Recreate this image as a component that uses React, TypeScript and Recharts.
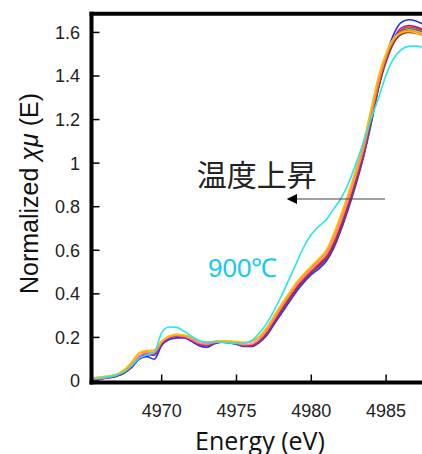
import React from 'react';
import { LineChart, Line, XAxis, YAxis } from 'recharts';

const energy = [4965.3, 4966, 4967, 4967.5, 4968, 4968.5, 4969, 4969.5, 4970, 4970.5, 4971, 4971.5, 4972, 4972.5, 4973, 4973.5, 4974, 4974.5, 4975, 4975.5, 4976, 4976.5, 4977, 4977.5, 4978, 4978.5, 4979, 4979.5, 4980, 4980.5, 4981, 4981.5, 4982, 4982.5, 4983, 4983.5, 4984, 4984.5, 4985, 4985.5, 4986, 4986.5, 4987, 4987.4];

const xTicks = [4970, 4975, 4980, 4985];
const yTicks = [0, 0.2, 0.4, 0.6, 0.8, 1, 1.2, 1.4, 1.6];

const blue = [0.006, 0.01, 0.022, 0.036, 0.062, 0.1, 0.112, 0.1, 0.163, 0.19, 0.198, 0.197, 0.182, 0.162, 0.155, 0.17, 0.178, 0.175, 0.168, 0.158, 0.158, 0.175, 0.208, 0.258, 0.31, 0.36, 0.41, 0.452, 0.488, 0.515, 0.55, 0.61, 0.695, 0.795, 0.905, 1.03, 1.18, 1.35, 1.49, 1.59, 1.645, 1.658, 1.652, 1.64];
const purple = [0.007, 0.011, 0.024, 0.038, 0.065, 0.105, 0.12, 0.118, 0.17, 0.198, 0.205, 0.202, 0.187, 0.167, 0.162, 0.173, 0.179, 0.176, 0.17, 0.161, 0.162, 0.18, 0.215, 0.268, 0.32, 0.37, 0.42, 0.46, 0.496, 0.525, 0.56, 0.622, 0.708, 0.808, 0.918, 1.04, 1.19, 1.35, 1.48, 1.57, 1.62, 1.632, 1.626, 1.615];
const red = [0.008, 0.012, 0.026, 0.042, 0.07, 0.112, 0.126, 0.125, 0.175, 0.2, 0.207, 0.203, 0.188, 0.17, 0.165, 0.175, 0.18, 0.177, 0.171, 0.163, 0.165, 0.186, 0.224, 0.278, 0.332, 0.383, 0.433, 0.472, 0.507, 0.538, 0.574, 0.64, 0.727, 0.828, 0.938, 1.058, 1.21, 1.365, 1.485, 1.565, 1.61, 1.625, 1.62, 1.61];
const green = [0.008, 0.012, 0.025, 0.041, 0.069, 0.11, 0.125, 0.126, 0.176, 0.201, 0.208, 0.204, 0.189, 0.171, 0.166, 0.176, 0.18, 0.177, 0.172, 0.164, 0.166, 0.187, 0.225, 0.279, 0.333, 0.384, 0.434, 0.473, 0.508, 0.539, 0.575, 0.641, 0.728, 0.829, 0.937, 1.056, 1.206, 1.36, 1.48, 1.56, 1.603, 1.617, 1.613, 1.603];
const darkRed = [0.008, 0.012, 0.025, 0.04, 0.068, 0.11, 0.127, 0.128, 0.178, 0.203, 0.21, 0.205, 0.19, 0.172, 0.167, 0.176, 0.18, 0.177, 0.172, 0.163, 0.165, 0.185, 0.222, 0.275, 0.33, 0.38, 0.43, 0.47, 0.505, 0.535, 0.57, 0.635, 0.72, 0.82, 0.93, 1.05, 1.2, 1.355, 1.475, 1.555, 1.595, 1.605, 1.6, 1.59];
const brown = [0.008, 0.012, 0.024, 0.038, 0.066, 0.108, 0.125, 0.127, 0.176, 0.2, 0.208, 0.204, 0.19, 0.172, 0.166, 0.176, 0.18, 0.177, 0.172, 0.164, 0.164, 0.182, 0.218, 0.27, 0.325, 0.375, 0.425, 0.465, 0.5, 0.53, 0.563, 0.625, 0.71, 0.81, 0.92, 1.04, 1.19, 1.345, 1.465, 1.55, 1.59, 1.6, 1.597, 1.588];
const gray = [0.008, 0.012, 0.025, 0.039, 0.067, 0.109, 0.126, 0.127, 0.177, 0.201, 0.209, 0.204, 0.19, 0.171, 0.166, 0.175, 0.18, 0.177, 0.172, 0.163, 0.164, 0.183, 0.22, 0.272, 0.327, 0.377, 0.427, 0.467, 0.502, 0.532, 0.566, 0.63, 0.715, 0.815, 0.925, 1.045, 1.195, 1.35, 1.47, 1.552, 1.592, 1.602, 1.598, 1.589];
const pink = [0.009, 0.013, 0.027, 0.044, 0.074, 0.116, 0.13, 0.131, 0.178, 0.202, 0.209, 0.205, 0.191, 0.174, 0.169, 0.177, 0.181, 0.179, 0.174, 0.167, 0.17, 0.19, 0.229, 0.283, 0.338, 0.389, 0.438, 0.478, 0.512, 0.545, 0.582, 0.65, 0.738, 0.838, 0.948, 1.068, 1.22, 1.372, 1.49, 1.565, 1.6, 1.61, 1.604, 1.594];
const orange = [0.012, 0.018, 0.03, 0.05, 0.085, 0.128, 0.137, 0.14, 0.182, 0.205, 0.213, 0.21, 0.198, 0.182, 0.177, 0.181, 0.184, 0.182, 0.179, 0.175, 0.18, 0.2, 0.238, 0.292, 0.347, 0.398, 0.448, 0.488, 0.522, 0.556, 0.594, 0.668, 0.758, 0.858, 0.968, 1.09, 1.24, 1.39, 1.5, 1.57, 1.6, 1.608, 1.6, 1.59];
const gold = [0.013, 0.019, 0.031, 0.052, 0.088, 0.13, 0.14, 0.142, 0.183, 0.206, 0.214, 0.211, 0.2, 0.184, 0.178, 0.182, 0.185, 0.183, 0.181, 0.177, 0.183, 0.204, 0.243, 0.298, 0.352, 0.402, 0.452, 0.492, 0.527, 0.562, 0.6, 0.676, 0.766, 0.866, 0.976, 1.1, 1.25, 1.4, 1.505, 1.572, 1.598, 1.604, 1.597, 1.586];
const cyan = [0.01, 0.015, 0.028, 0.042, 0.07, 0.105, 0.12, 0.13, 0.222, 0.248, 0.246, 0.228, 0.205, 0.186, 0.178, 0.18, 0.178, 0.175, 0.172, 0.173, 0.185, 0.218, 0.262, 0.322, 0.39, 0.465, 0.54, 0.615, 0.672, 0.71, 0.74, 0.79, 0.84, 0.91, 1.0, 1.1, 1.205, 1.3, 1.405, 1.48, 1.52, 1.536, 1.537, 1.532];

const seriesDefs = [
  { key: 'blue', color: '#2a2aff', values: blue },
  { key: 'purple', color: '#7a2fc0', values: purple },
  { key: 'gray', color: '#5a5a5a', values: gray },
  { key: 'brown', color: '#8b4a2b', values: brown },
  { key: 'darkRed', color: '#b01818', values: darkRed },
  { key: 'green', color: '#1f9a3a', values: green },
  { key: 'red', color: '#ff2020', values: red },
  { key: 'pink', color: '#ff80c0', values: pink },
  { key: 'orange', color: '#ff8a00', values: orange },
  { key: 'gold', color: '#ffc000', values: gold },
  { key: 'cyan', color: '#22e8ee', values: cyan },
];

const data = energy.map((e, i) => {
  const row: Record<string, number> = { e };
  seriesDefs.forEach((s) => {
    row[s.key] = s.values[i];
  });
  return row;
});

const xDomain = [4965.31, 4987.4];
const yDomain = [-0.007, 1.686];

export default function App() {
  return (
    <div style={{ position: 'absolute', left: 0, top: 0, width: 422, height: 454, background: '#fff', overflow: 'hidden' }}>
      <LineChart width={422} height={454} data={data} margin={{ top: 0, right: 0, bottom: 0, left: 0 }}>
        <XAxis
          xAxisId="b"
          dataKey="e"
          type="number"
          domain={xDomain}
          allowDataOverflow
          ticks={xTicks}
          orientation="bottom"
          height={71.5}
          tickSize={-8}
          tickMargin={29.5}
          axisLine={{ stroke: '#000', strokeWidth: 4, strokeLinecap: 'square' }}
          tickLine={{ stroke: '#000', strokeWidth: 1.5 }}
          tick={{ fill: '#222', fontSize: 18, fontFamily: 'Liberation Sans, Arial, sans-serif' }}
        />
        <XAxis
          xAxisId="t"
          type="number"
          domain={xDomain}
          allowDataOverflow
          ticks={xTicks}
          orientation="top"
          height={13.7}
          tickSize={-8}
          tick={false}
          axisLine={{ stroke: '#000', strokeWidth: 4, strokeLinecap: 'square' }}
          tickLine={{ stroke: '#000', strokeWidth: 1.5 }}
        />
        <YAxis
          type="number"
          domain={yDomain}
          allowDataOverflow
          ticks={yTicks}
          width={91.5}
          tickSize={-8}
          tickMargin={19.5}
          axisLine={{ stroke: '#000', strokeWidth: 4, strokeLinecap: 'square' }}
          tickLine={{ stroke: '#000', strokeWidth: 1.5 }}
          tick={{ fill: '#222', fontSize: 18, fontFamily: 'Liberation Sans, Arial, sans-serif' }}
        />
        {seriesDefs.map((s) => (
          <Line
            key={s.key}
            xAxisId="b"
            dataKey={s.key}
            type="monotone"
            stroke={s.color}
            strokeWidth={1.6}
            dot={false}
            isAnimationActive={false}
          />
        ))}
      </LineChart>
      <svg width={422} height={454} style={{ position: 'absolute', left: 0, top: 0, pointerEvents: 'none' }}>
        <text
          transform="translate(29,193.5) rotate(-90)"
          textAnchor="middle"
          dominantBaseline="central"
          fontSize={25}
          fill="#111"
          fontFamily="Liberation Sans, Arial, sans-serif"
        >
          Normalized <tspan fontStyle="italic">χμ</tspan> (E)
        </text>
        <text x={260} y={450} textAnchor="middle" fontSize={25} fill="#111" fontFamily="Open Sans, sans-serif">
          Energy (eV)
        </text>
        <text x={256.7} y={186} textAnchor="middle" fontSize={30} fill="#222" fontFamily="Noto Sans CJK JP, sans-serif">
          温度上昇
        </text>
        <line x1={296} y1={199} x2={385} y2={199} stroke="#444" strokeWidth={1.2} />
        <polygon points="286.7,199 297,194 297,204" fill="#000" />
        <text x={208} y={276.7} fontSize={26} fill="#18c8f4" fontFamily="Liberation Sans, Arial, sans-serif">
          900℃
        </text>
      </svg>
    </div>
  );
}
